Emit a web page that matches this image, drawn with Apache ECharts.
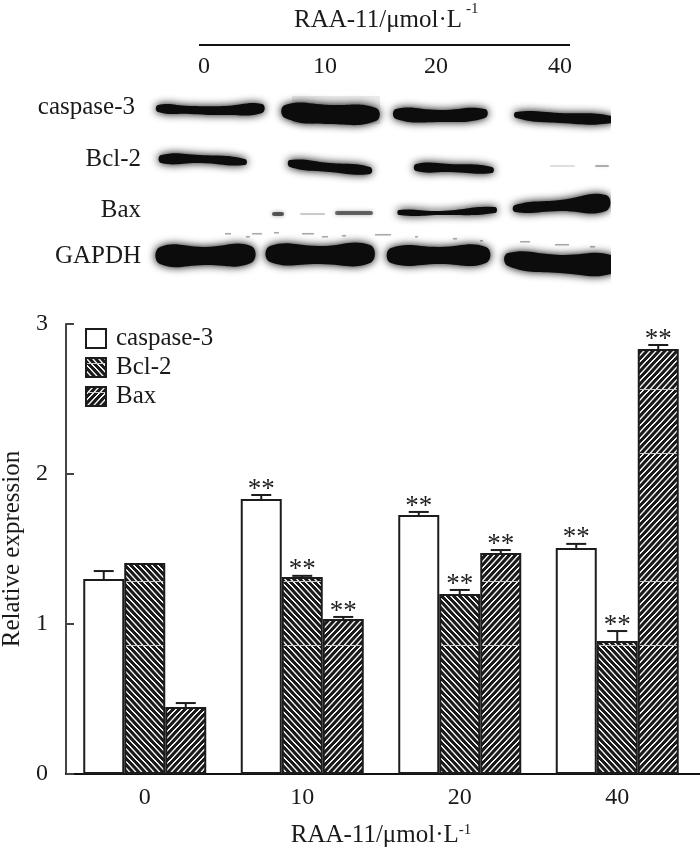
<!DOCTYPE html>
<html><head><meta charset="utf-8">
<style>html,body{margin:0;padding:0;background:#fff}#c{width:700px;height:851px}</style>
<script src="https://cdn.jsdelivr.net/npm/echarts@6/dist/echarts.min.js"></script>
</head><body><div id="c"></div>
<script>
var categories = ['0','10','20','40'];
var seriesNames = ['caspase-3','Bcl-2','Bax'];
var caspase3 = [1.30,1.833,1.727,1.507];
var bcl2 = [1.407,1.313,1.20,0.887];
var bax = [0.447,1.033,1.473,2.833];
var caspase3Err = [0.053,0.027,0.020,0.027];
var bcl2Err = [0,0.008,0.027,0.066];
var baxErr = [0.026,0.014,0.020,0.027];
var caspase3Stars = [0,1,1,1];
var bcl2Stars = [0,1,1,1];
var baxStars = [0,1,1,1];
var yTicks = [0,1,2,3];
var xTitle = 'RAA-11/μmol·L';
var xTitleSup = '-1';
var yTitle = 'Relative expression';
var blotLabels = ['caspase-3','Bcl-2','Bax','GAPDH'];

var FONT = '"Liberation Serif","Times New Roman",serif';
var BAR_W = 41;

function hatch(dir){
  var w=6,h=192,c=document.createElement('canvas');c.width=w;c.height=h;
  var g=c.getContext('2d'),im=g.createImageData(w,h);
  for(var y=0;y<h;y++)for(var x=0;x<w;x++){
    var v=((x/6+dir*y/6.4)%1+1)%1;
    var d=Math.min(v,1-v);
    var t=Math.max(0,Math.min(1,(0.22-d)/0.12));
    var col=26+t*(245-26);
    if(y===5||y===69)col=205;
    var i=(y*w+x)*4;im.data[i]=im.data[i+1]=im.data[i+2]=col;im.data[i+3]=255;
  }
  g.putImageData(im,0,0);
  return {image:c,repeat:'repeat'};
}
var fills=['#ffffff',hatch(-1),hatch(1)];
var vals=[caspase3,bcl2,bax],errs=[caspase3Err,bcl2Err,baxErr],stars=[caspase3Stars,bcl2Stars,baxStars];

var barSeries=seriesNames.map(function(n,i){
  return {name:n,type:'bar',data:vals[i],barWidth:BAR_W,barGap:0,z:2,silent:true,
    itemStyle:{color:fills[i],borderColor:'#1c1c1c',borderWidth:2}};
});
var errData=[];
seriesNames.forEach(function(n,s){categories.forEach(function(c,k){
  errData.push([k,s,vals[s][k],errs[s][k],stars[s][k]]);
});});
var errSeries={type:'custom',name:'err',silent:true,z:5,data:errData,
  encode:{x:0,y:2},
  renderItem:function(p,api){
    var k=api.value(0),s=api.value(1),v=api.value(2),e=api.value(3),st=api.value(4);
    var x=api.coord([k,0])[0]+(s-1)*BAR_W;
    var y0=api.coord([k,v])[1],y1=api.coord([k,v+e])[1];
    var ch=[];
    var ls={stroke:'#1c1c1c',lineWidth:2,fill:null};
    if(e>0){
      ch.push({type:'line',shape:{x1:x,y1:y0,x2:x,y2:y1},style:ls});
      ch.push({type:'line',shape:{x1:x-10,y1:y1,x2:x+10,y2:y1},style:ls});
    }
    if(st){ch.push({type:'text',style:{x:x,y:y1+8,text:'**',fill:'#222',font:'27px '+FONT,textAlign:'center',textVerticalAlign:'bottom'}});}
    return {type:'group',children:ch};
  }};

// western-blot panel decoration
var blotBands=[
 [[158,105],[190,106],[225,106],[262,104],[262,113],[225,115],[190,114],[158,112]],
 [[285,105],[330,105],[376,108],[376,121],[330,124],[285,118]],
 [[396,109],[440,110],[485,109],[485,118],[440,122],[396,119]],
 [[516,112],[560,113],[612,116],[612,123],[560,123],[516,118]],
 [[161,155],[200,155],[245,159],[245,165],[200,163],[161,163]],
 [[290,160],[330,163],[370,167],[370,174],[330,172],[290,167]],
 [[416,164],[450,164],[492,167],[492,173],[450,172],[416,171]],
 [[399,210],[440,211],[495,207],[495,213],[440,215],[399,215]],
 [[515,205],[560,200],[606,195],[606,211],[560,211],[515,212]],
 [[160,247],[205,247],[251,246],[251,263],[205,265],[160,264]],
 [[270,246],[320,246],[370,245],[370,263],[320,264],[270,262]],
 [[391,248],[440,247],[486,247],[486,263],[440,264],[391,263]],
 [[508,253],[560,255],[614,256],[614,273],[560,273],[508,266]]
];
var faint=[
 [[272,212,12,4],.6],[[300,213,25,2],.2],[[335,211,38,4],.55],
 [[550,165,25,2],.12],[[595,165,14,2],.3]
];
var specks=[[225,233,6],[252,233,10],[274,232,5],[302,233,12],[342,235,4],[375,234,16],[415,236,3],[453,238,4],[480,240,3],[520,241,10],[555,244,14],[590,246,5],[246,236,4],[322,236,6]];
var gr=[];
gr.push({type:'rect',shape:{x:292,y:96,width:88,height:28},style:{fill:'rgba(0,0,0,0.08)',shadowBlur:16,shadowColor:'rgba(0,0,0,0.25)'},z:1});
blotBands.forEach(function(b){
  gr.push({type:'polygon',shape:{points:b,smooth:0.5},style:{fill:'#0c0c0c',shadowBlur:8,shadowColor:'#000'},z:2});
});
faint.forEach(function(f){
  var r=f[0];
  gr.push({type:'rect',shape:{x:r[0],y:r[1],width:r[2],height:r[3],r:2},style:{fill:'rgba(0,0,0,'+f[1]+')',shadowBlur:4,shadowColor:'rgba(0,0,0,'+f[1]+')'},z:2});
});
specks.forEach(function(s){
  gr.push({type:'rect',shape:{x:s[0],y:s[1],width:s[2],height:1.5},style:{fill:'rgba(0,0,0,0.3)',shadowBlur:2,shadowColor:'rgba(0,0,0,0.3)'},z:2});
});
// mask right edge of blot
gr.push({type:'rect',shape:{x:611,y:85,width:60,height:200},style:{fill:'#fff'},z:3});
function txt(t,x,y,align,size){
  return {type:'text',z:4,style:{x:x,y:y,text:t,fill:'#1a1a1a',font:(size||25)+'px '+FONT,textAlign:align||'center',textVerticalAlign:'middle'}};
}
gr.push(txt(xTitle,294,20,'left'));
gr.push(txt(xTitleSup,466,9,'left',15));
gr.push({type:'line',z:4,shape:{x1:199,y1:45,x2:570,y2:45},style:{stroke:'#111',lineWidth:2}});
var topX=[204,325,436,560];
categories.forEach(function(c,i){gr.push(txt(c,topX[i],67,'center',24));});
var labelRight=[135,141,141,141],labelY=[107,159,210,256];
blotLabels.forEach(function(l,i){gr.push(txt(l,labelRight[i],labelY[i],'right',25));});
gr.push({type:'line',z:4,shape:{x1:696,y1:774,x2:700,y2:774},style:{stroke:'#111',lineWidth:2}});

var chart=echarts.init(document.getElementById('c'),null,{renderer:'canvas'});
chart.setOption({
  animation:false,backgroundColor:'#fff',
  textStyle:{fontFamily:FONT},
  grid:{left:66,top:324,width:630,height:450,containLabel:false,outerBoundsMode:'none'},
  legend:{show:true,data:seriesNames,orient:'vertical',left:80,top:321,padding:5,itemWidth:20,itemHeight:19,itemGap:4,icon:'rect',
    selectedMode:false,
    textStyle:{fontFamily:FONT,fontSize:25,color:'#1a1a1a',lineHeight:19,height:19,padding:[0,0,0,5]}},
  xAxis:{type:'category',data:categories,
    axisLine:{lineStyle:{color:'#111',width:2}},axisTick:{show:false},
    axisLabel:{fontFamily:FONT,fontSize:24,color:'#1a1a1a',margin:12},
    name:'{t|'+xTitle+'}{s|'+xTitleSup+'}',nameLocation:'middle',nameGap:49,
    nameTextStyle:{rich:{t:{fontFamily:FONT,fontSize:25,color:'#1a1a1a'},s:{fontFamily:FONT,fontSize:15,color:'#1a1a1a',verticalAlign:'top',padding:[0,0,8,0]}}}},
  yAxis:{type:'value',min:0,max:3,interval:1,
    axisLine:{show:true,lineStyle:{color:'#444',width:2}},
    axisTick:{show:true,inside:true,length:8,lineStyle:{color:'#444',width:2}},
    splitLine:{show:false},
    axisLabel:{fontFamily:FONT,fontSize:24,color:'#1a1a1a',margin:18,formatter:function(v){return yTicks.indexOf(v)>=0?String(v):'';}},
    name:yTitle,nameLocation:'middle',nameGap:39,nameTextStyle:{fontFamily:FONT,fontSize:25,color:'#1a1a1a'}},
  series:barSeries.concat([errSeries]),
  graphic:{elements:gr}
});
</script></body></html>
